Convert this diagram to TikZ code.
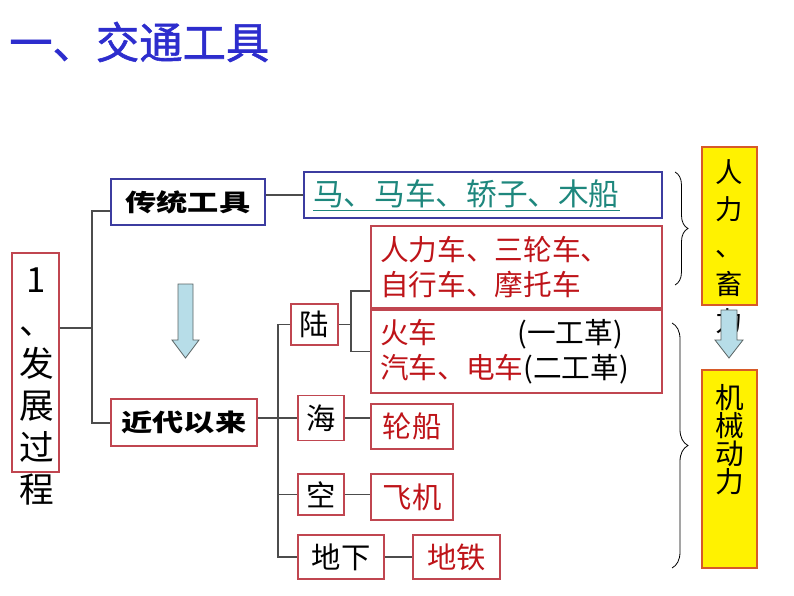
\documentclass[tikz,border=0pt]{standalone}
\usepackage{fontspec}
\setmainfont{Noto Sans CJK SC}
\newfontfamily\widefont[FakeStretch=1.3]{Noto Sans CJK SC}
\newfontfamily\titlefont[FakeBold=1.3]{Noto Sans CJK SC}
\usetikzlibrary{decorations.pathreplacing}
\definecolor{titleblue}{RGB}{45,45,205}
\definecolor{boxred}{RGB}{192,70,80}
\definecolor{boxblue}{RGB}{60,60,160}
\definecolor{txtred}{RGB}{190,20,25}
\definecolor{txtteal}{RGB}{30,135,125}
\definecolor{arrfill}{RGB}{183,221,232}
\definecolor{arrline}{RGB}{90,100,100}
\definecolor{ylwline}{RGB}{215,90,40}
\tikzset{
  redbox/.style={draw=boxred, line width=0.8pt, inner sep=0pt},
  bluebox/.style={draw=boxblue, line width=0.8pt, inner sep=0pt},
  ylwbox/.style={draw=ylwline, fill=yellow, line width=0.8pt, inner sep=0pt},
  conn/.style={draw=black!70, line width=0.8pt},
  fatarr/.style={fill=arrfill, draw=arrline, line width=0.6pt},
  bigbrace/.style={decorate, decoration={brace, amplitude=#1}, line width=0.6pt},
}
\begin{document}
\begin{tikzpicture}[x=0.75pt, y=-0.75pt]
    \useasboundingbox (0,0) rectangle (794,596);
    %titolo
    \node[anchor=west, inner sep=0pt, text=titleblue, font=\titlefont\fontsize{32.5pt}{36pt}\selectfont] (title) at (9,42) {一、交通工具};
    %riquadro a sinistra
    \node[redbox, minimum width=35.25pt, minimum height=164.25pt] (dev) at (35.5,362.5) {};
    \node[anchor=north, inner sep=0pt, align=center, font=\fontsize{26pt}{31.5pt}\selectfont] (devtxt) at (36.5,268) {1\\、\\发\\展\\过\\程};
    %due rami
    \node[bluebox, minimum width=115.5pt, minimum height=34.5pt, font=\widefont\bfseries\fontsize{18pt}{20pt}\selectfont] (trad) at (188,202) {传统工具};
    \node[redbox, minimum width=109.5pt, minimum height=35.25pt, font=\widefont\bfseries\fontsize{18pt}{20pt}\selectfont] (modern) at (184,422.5) {近代以来};
    \coordinate (j1) at (92,328);
    \draw[conn] (dev.east |- j1) -- (j1);
    \draw[conn] (trad.west |- 0,211) -| (j1) |- (modern.west |- 0,423);
    %freccia grande
    \draw[fatarr] (178,284) -- (193,284) -- (193,340) -- (199,340) -- (185.5,358) -- (172,340) -- (178,340) -- cycle;
    %mezzi tradizionali
    \node[bluebox, inner xsep=6.75pt, text width=255pt, align=left, minimum height=34.5pt, text=txtteal, font=\fontsize{23pt}{26pt}\selectfont] (horse) at (483,195) {\underline{马、马车、轿子、木船}};
    \draw[conn] (trad.east |- horse.west) -- (horse.west);
    %terra
    \node[redbox, minimum width=35.25pt, minimum height=30.75pt, font=\fontsize{22pt}{24pt}\selectfont] (land) at (314.5,324.5) {陆};
    \node[redbox, inner xsep=6.75pt, text width=204.75pt, align=left, minimum height=61.5pt, text=txtred, font=\fontsize{21.5pt}{26.25pt}\selectfont] (manpow) at (516.5,267) {人力车、三轮车、\\自行车、摩托车};
    \node[redbox, inner xsep=6.75pt, text width=204.75pt, align=left, minimum height=62.25pt, font=\fontsize{21.5pt}{26.25pt}\selectfont] (engine) at (516.5,351.5) {{\color{txtred}火车}\hspace{60pt}(一工革)\\{\color{txtred}汽车、电车}(二工革)};
    \coordinate (j2) at (351,324.5);
    \draw[conn] (land.east) -- (j2);
    \draw[conn] (manpow.west |- 0,291) -| (j2) |- (engine.west);
    %mare, aria, sottosuolo
    \node[redbox, minimum width=34.5pt, minimum height=33.75pt, font=\fontsize{22pt}{24pt}\selectfont] (sea) at (321,418) {海};
    \node[redbox, minimum width=61.5pt, minimum height=33.75pt, text=txtred, font=\fontsize{22pt}{24pt}\selectfont] (ship) at (412,426.5) {轮船};
    \node[redbox, minimum width=34.5pt, minimum height=30.75pt, font=\fontsize{22pt}{24pt}\selectfont] (air) at (321,494.5) {空};
    \node[redbox, minimum width=61.5pt, minimum height=34.5pt, text=txtred, font=\fontsize{22pt}{24pt}\selectfont] (plane) at (412,497) {飞机};
    \node[redbox, minimum width=64.5pt, minimum height=33pt, font=\fontsize{22pt}{24pt}\selectfont] (under) at (341,557) {地下};
    \node[redbox, minimum width=65.25pt, minimum height=33pt, text=txtred, font=\fontsize{22pt}{24pt}\selectfont] (metro) at (456.5,557) {地铁};
    \coordinate (t2) at (278,557);
    \draw[conn] (land.west) -| (t2) -- (under.west);
    \draw[conn] (modern.east |- sea.west) -- (sea.west);
    \draw[conn] (air.west -| t2) -- (air.west);
    \draw[conn] (sea.east) -- (sea.east -| ship.west);
    \draw[conn] (air.east) -- (air.east -| plane.west);
    \draw[conn] (under.east) -- (metro.west);
    %graffe
    \draw[bigbrace=9.75pt] (675,172) -- (675,285);
    \draw[bigbrace=12pt] (672,323) -- (672,568);
    %riquadri gialli
    \node[ylwbox, minimum width=41.25pt, minimum height=118.5pt] (power1) at (729.5,226) {};
    \node[anchor=north, inner sep=0pt, align=center, font=\fontsize{20.5pt}{28pt}\selectfont] (power1txt) at (729.5,159) {人\\力\\、\\畜\\力};
    \draw[fatarr] (721,310) -- (737,310) -- (737,340) -- (743,340) -- (729,358) -- (715,340) -- (721,340) -- cycle;
    \node[ylwbox, minimum width=41.25pt, minimum height=148.5pt] (power2) at (729.5,469) {};
    \node[anchor=north, inner sep=0pt, align=center, font=\fontsize{21.5pt}{21pt}\selectfont] (power2txt) at (729.5,384) {机\\械\\动\\力};
\end{tikzpicture}
\end{document}
